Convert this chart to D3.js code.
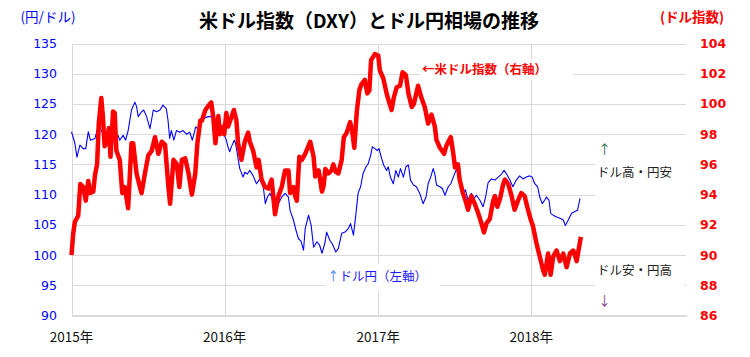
<!DOCTYPE html>
<html><head><meta charset="utf-8">
<script src="https://cdn.jsdelivr.net/npm/d3@7"></script>
<style>body{margin:0;background:#fff}svg{display:block}</style>
</head><body><svg id="c" width="750" height="357"></svg>
<script>
// 米ドル指数 (DXY, right axis)
const dxyDates = ["2015-01-01","2015-01-05","2015-01-09","2015-01-17","2015-01-22","2015-01-29","2015-02-04","2015-02-10","2015-02-15","2015-02-22","2015-02-26","2015-03-03","2015-03-07","2015-03-13","2015-03-17","2015-03-21","2015-03-27","2015-03-31","2015-04-04","2015-04-10","2015-04-14","2015-04-18","2015-04-26","2015-05-02","2015-05-08","2015-05-16","2015-05-24","2015-05-28","2015-06-05","2015-06-13","2015-06-17","2015-06-25","2015-07-03","2015-07-11","2015-07-19","2015-07-27","2015-08-04","2015-08-12","2015-08-20","2015-08-24","2015-09-01","2015-09-09","2015-09-15","2015-09-21","2015-09-29","2015-10-07","2015-10-15","2015-10-23","2015-10-28","2015-11-04","2015-11-08","2015-11-16","2015-11-24","2015-11-30","2015-12-05","2015-12-10","2015-12-17","2015-12-21","2015-12-29","2015-12-31","2016-01-05","2016-01-09","2016-01-17","2016-01-23","2016-01-29","2016-02-02","2016-02-10","2016-02-18","2016-02-26","2016-03-01","2016-03-09","2016-03-17","2016-03-22","2016-03-29","2016-04-06","2016-04-14","2016-04-22","2016-04-30","2016-05-08","2016-05-16","2016-05-24","2016-06-01","2016-06-05","2016-06-13","2016-06-17","2016-06-21","2016-06-27","2016-07-03","2016-07-11","2016-07-23","2016-07-31","2016-08-04","2016-08-12","2016-08-20","2016-08-24","2016-08-28","2016-09-04","2016-09-12","2016-09-16","2016-09-22","2016-09-28","2016-10-06","2016-10-11","2016-10-18","2016-10-26","2016-10-31","2016-11-05","2016-11-11","2016-11-17","2016-11-22","2016-11-30","2016-12-06","2016-12-11","2016-12-15","2016-12-24","2017-01-01","2017-01-05","2017-01-13","2017-01-21","2017-01-25","2017-02-02","2017-02-07","2017-02-14","2017-02-22","2017-02-28","2017-03-08","2017-03-14","2017-03-22","2017-03-27","2017-04-06","2017-04-14","2017-04-22","2017-04-30","2017-05-08","2017-05-16","2017-05-20","2017-05-28","2017-06-07","2017-06-12","2017-06-17","2017-06-23","2017-06-29","2017-07-03","2017-07-10","2017-07-14","2017-07-22","2017-07-28","2017-08-03","2017-08-11","2017-08-19","2017-08-27","2017-09-04","2017-09-10","2017-09-16","2017-09-24","2017-10-02","2017-10-06","2017-10-12","2017-10-18","2017-10-26","2017-10-30","2017-11-07","2017-11-15","2017-11-22","2017-11-30","2017-12-08","2017-12-16","2017-12-24","2017-12-31","2018-01-05","2018-01-13","2018-01-21","2018-01-29","2018-02-02","2018-02-10","2018-02-16","2018-02-22","2018-03-02","2018-03-10","2018-03-18","2018-03-26","2018-04-03","2018-04-11","2018-04-19","2018-04-29"];
const dxyValues = [90.0,91.4,92.2,92.6,94.7,94.5,93.6,94.9,94.1,94.2,95.3,96.0,98.7,100.4,99.1,97.2,97.5,98.4,96.5,99.5,99.4,96.9,96.3,94.1,94.5,93.1,97.4,97.4,95.4,94.5,94.1,95.4,96.6,96.9,97.8,96.7,97.5,97.3,94.5,93.4,96.3,96.0,94.5,96.3,96.4,95.4,94.0,95.4,97.4,98.9,98.9,99.6,99.9,100.1,99.1,97.4,99.2,98.0,98.5,98.0,99.4,98.5,99.1,99.6,98.9,97.4,96.3,97.5,98.1,97.5,96.9,95.8,96.3,95.0,94.5,94.4,95.0,92.7,93.9,94.5,95.6,95.6,94.1,94.5,93.9,93.6,96.5,96.3,96.7,97.5,96.5,95.2,95.6,94.2,94.6,95.7,95.4,95.6,96.0,95.5,95.4,96.3,97.8,98.1,98.8,98.2,97.1,99.5,100.9,101.3,101.6,100.7,100.9,102.9,103.3,103.2,102.2,101.7,100.7,100.3,99.6,100.4,101.1,101.2,102.1,101.9,100.7,99.8,100.0,101.2,100.4,99.8,98.7,99.3,98.5,97.6,97.1,96.7,97.2,97.5,97.8,96.7,95.8,96.0,95.0,94.1,93.6,93.0,93.9,93.4,92.8,92.1,91.5,92.1,92.4,93.6,93.9,93.2,93.7,94.7,95.0,94.7,93.9,93.0,93.6,94.1,93.9,93.0,92.3,91.9,90.8,89.9,89.0,88.7,90.1,88.7,89.9,90.3,89.6,90.1,89.2,90.1,90.3,89.6,91.2];

// ドル円 (left axis)
const jpyDates = ["2015-01-01","2015-01-09","2015-01-14","2015-01-21","2015-01-29","2015-02-04","2015-02-10","2015-02-15","2015-02-26","2015-03-06","2015-03-13","2015-03-21","2015-03-29","2015-04-06","2015-04-14","2015-04-22","2015-04-26","2015-05-04","2015-05-10","2015-05-16","2015-05-24","2015-06-01","2015-06-05","2015-06-09","2015-06-17","2015-06-22","2015-06-29","2015-07-07","2015-07-15","2015-07-23","2015-07-31","2015-08-07","2015-08-15","2015-08-19","2015-08-23","2015-08-27","2015-09-02","2015-09-08","2015-09-16","2015-09-24","2015-10-02","2015-10-10","2015-10-16","2015-10-24","2015-10-30","2015-11-03","2015-11-11","2015-11-23","2015-12-01","2015-12-07","2015-12-13","2015-12-21","2015-12-29","2016-01-05","2016-01-09","2016-01-13","2016-01-17","2016-01-24","2016-01-27","2016-02-06","2016-02-14","2016-02-18","2016-02-24","2016-03-01","2016-03-09","2016-03-17","2016-03-25","2016-04-02","2016-04-07","2016-04-12","2016-04-18","2016-04-23","2016-04-30","2016-05-08","2016-05-16","2016-05-24","2016-06-01","2016-06-05","2016-06-13","2016-06-19","2016-06-25","2016-07-01","2016-07-07","2016-07-11","2016-07-19","2016-07-25","2016-07-31","2016-08-08","2016-08-14","2016-08-20","2016-08-27","2016-08-31","2016-09-08","2016-09-14","2016-09-22","2016-09-28","2016-10-06","2016-10-14","2016-10-22","2016-10-27","2016-11-03","2016-11-09","2016-11-14","2016-11-20","2016-11-26","2016-12-03","2016-12-08","2016-12-14","2016-12-18","2016-12-24","2016-12-30","2017-01-03","2017-01-09","2017-01-14","2017-01-21","2017-01-25","2017-01-30","2017-02-06","2017-02-12","2017-02-18","2017-02-23","2017-03-02","2017-03-08","2017-03-14","2017-03-19","2017-03-26","2017-04-02","2017-04-10","2017-04-18","2017-04-25","2017-04-30","2017-05-06","2017-05-12","2017-05-16","2017-05-20","2017-05-28","2017-06-03","2017-06-09","2017-06-17","2017-06-23","2017-06-29","2017-07-07","2017-07-10","2017-07-14","2017-07-22","2017-07-28","2017-08-03","2017-08-11","2017-08-18","2017-08-23","2017-08-31","2017-09-08","2017-09-14","2017-09-20","2017-09-28","2017-10-06","2017-10-14","2017-10-22","2017-10-28","2017-11-03","2017-11-11","2017-11-18","2017-11-26","2017-12-04","2017-12-12","2017-12-20","2017-12-28","2018-01-03","2018-01-09","2018-01-16","2018-01-21","2018-01-27","2018-02-02","2018-02-06","2018-02-12","2018-02-16","2018-02-22","2018-03-02","2018-03-10","2018-03-18","2018-03-23","2018-03-30","2018-04-07","2018-04-15","2018-04-21","2018-04-27"];
const jpyValues = [120.4,118.5,116.2,118.2,117.6,117.6,120.4,119.0,119.3,121.5,120.6,119.5,120.8,120.8,119.3,119.8,119.0,119.8,119.0,120.6,124.0,125.3,124.6,122.9,123.7,124.0,122.9,120.9,124.0,123.7,124.0,124.8,124.2,122.3,119.3,120.6,119.0,120.6,120.3,120.6,120.0,120.3,119.0,121.2,120.8,122.3,122.6,122.9,122.9,122.3,120.8,120.6,120.3,119.0,117.9,117.1,117.9,119.0,118.5,114.3,112.9,113.7,113.4,114.0,113.1,111.8,112.6,111.3,108.5,109.6,110.2,109.4,107.4,108.5,109.6,110.2,109.6,107.4,105.8,104.1,102.7,102.3,100.8,104.4,106.6,105.0,101.3,102.2,101.7,100.3,102.0,103.8,102.4,101.8,100.5,101.1,103.6,103.8,104.4,105.2,103.3,106.9,110.2,111.3,113.5,114.6,115.1,116.5,117.9,117.6,117.3,117.6,116.0,114.9,114.0,114.6,112.9,111.8,114.0,112.9,114.3,112.9,114.6,114.9,112.4,111.6,111.3,110.2,108.5,109.6,111.8,112.9,114.3,113.4,111.6,111.3,111.0,109.9,111.3,111.8,112.9,114.3,113.4,112.0,110.2,110.8,109.1,110.2,109.4,109.9,109.1,108.0,109.6,112.0,112.6,112.4,112.9,113.4,114.0,113.4,112.4,111.3,112.4,113.1,112.6,112.9,113.1,112.9,111.8,111.3,109.6,108.5,109.1,109.6,109.1,106.9,106.6,106.3,106.1,105.8,104.9,105.8,106.9,107.2,107.4,109.4];

const leftTicks = [90,95,100,105,110,115,120,125,130,135];
const rightTicks = [86,88,90,92,94,96,98,100,102,104];
const yearTicks = ["2015","2016","2017","2018"];

const svg = d3.select("#c");
const parse = d3.timeParse("%Y-%m-%d");
const x = d3.scaleTime().domain([parse("2015-01-01"), parse("2019-01-01")]).range([71.5, 684.5]);
const yL = d3.scaleLinear().domain([90,135]).range([315.5,43.5]);
const yR = d3.scaleLinear().domain([86,104]).range([315.5,43.5]);
const cjk = "'Noto Sans CJK JP','Noto Sans',sans-serif";
const num = "'DejaVu Sans',Verdana,sans-serif";

svg.append("rect").attr("width",750).attr("height",357).attr("fill","#fff");

// grid
const g = svg.append("g").attr("shape-rendering","crispEdges");
g.selectAll("line.h").data(leftTicks).join("line")
  .attr("x1",71.5).attr("x2",686).attr("y1",d=>Math.round(yL(d))+0.5).attr("y2",d=>Math.round(yL(d))+0.5)
  .attr("stroke","#d9d9d9");
g.selectAll("line.v").data(yearTicks).join("line")
  .attr("x1",d=>Math.round(x(parse(d+"-01-01")))+0.5).attr("x2",d=>Math.round(x(parse(d+"-01-01")))+0.5)
  .attr("y1",43.5).attr("y2",315.5).attr("stroke","#d9d9d9");

// lines
const lineJ = d3.line().x(d=>x(d[0])).y(d=>yL(d[1]));
const lineD = d3.line().x(d=>x(d[0])).y(d=>yR(d[1]));
const jpy = jpyDates.map((d,i)=>[parse(d), jpyValues[i]]);
const dxy = dxyDates.map((d,i)=>[parse(d), dxyValues[i]]);
svg.append("path").attr("d",lineJ(jpy)).attr("fill","none").attr("stroke","#0000ff").attr("stroke-width",1.1).attr("stroke-linejoin","round");
svg.append("path").attr("d",lineD(dxy)).attr("fill","none").attr("stroke","#ff0000").attr("stroke-width",4.5).attr("stroke-linejoin","round");

// axes labels
svg.append("g").selectAll("text").data(leftTicks).join("text")
  .attr("x",57).attr("y",d=>yL(d)).attr("dy","0.36em").attr("text-anchor","end")
  .attr("font-family",num).attr("font-size",12.5).attr("fill","#0000ff").text(d=>d);
svg.append("g").selectAll("text").data(rightTicks).join("text")
  .attr("x",700).attr("y",d=>yR(d)).attr("dy","0.36em").attr("text-anchor","start")
  .attr("font-family",num).attr("font-weight","bold").attr("font-size",12.5).attr("fill","#ff0000").text(d=>d);
svg.append("g").selectAll("text").data(yearTicks).join("text")
  .attr("x",d=>x(parse(d+"-01-01"))).attr("y",337).attr("dy","0.36em").attr("text-anchor","middle")
  .attr("font-family",cjk).attr("font-size",13.5).attr("fill","#111").text(d=>d+"年");

// titles
svg.append("text").attr("x",369).attr("y",21).attr("dy","0.36em").attr("text-anchor","middle")
  .attr("font-family",cjk).attr("font-weight","bold").attr("font-size",19).attr("fill","#000")
  .text("米ドル指数（DXY）とドル円相場の推移");
svg.append("text").attr("x",48).attr("y",17).attr("dy","0.36em").attr("text-anchor","middle")
  .attr("font-family",cjk).attr("font-size",13.5).attr("fill","#0000ff").text("(円/ドル)");
svg.append("text").attr("x",692).attr("y",17).attr("dy","0.36em").attr("text-anchor","middle")
  .attr("font-family",cjk).attr("font-weight","bold").attr("font-size",13.5).attr("fill","#ff0000").text("(ドル指数)");

// annotations with white boxes
function box(x0,y0,w,h){svg.append("rect").attr("x",x0).attr("y",y0).attr("width",w).attr("height",h).attr("fill","#fff");}
box(420,60,153,20);
svg.append("text").attr("x",422).attr("y",69).attr("dy","0.36em").attr("font-family",cjk).attr("font-weight","bold")
  .attr("font-size",12.5).attr("fill","#ff0000").text("←米ドル指数（右軸）");
box(325,264,115,27);
const t2 = svg.append("text").attr("x",327).attr("y",276).attr("dy","0.36em").attr("font-family",cjk).attr("font-size",12.5).attr("fill","#1a1aff");
t2.append("tspan").attr("fill","#3c7cff").text("↑");
t2.append("tspan").text("ドル円（左軸）");
box(595,140,91,62);
svg.append("text").attr("x",598).attr("y",149).attr("dy","0.36em").attr("font-family",cjk).attr("font-size",13).attr("fill","#2e7050").text("↑");
svg.append("text").attr("x",597).attr("y",172).attr("dy","0.36em").attr("font-family",cjk).attr("font-size",12.5).attr("fill","#222").text("ドル高・円安");
box(595,260,89,50);
svg.append("text").attr("x",597).attr("y",270).attr("dy","0.36em").attr("font-family",cjk).attr("font-size",12.5).attr("fill","#222").text("ドル安・円高");
svg.append("text").attr("x",598).attr("y",300).attr("dy","0.36em").attr("font-family",cjk).attr("font-size",13).attr("fill","#804080").text("↓");

// bottom axis line
svg.append("line").attr("x1",71.5).attr("x2",688).attr("y1",315.5).attr("y2",315.5).attr("stroke","#d9d9d9").attr("shape-rendering","crispEdges");
</script></body></html>
